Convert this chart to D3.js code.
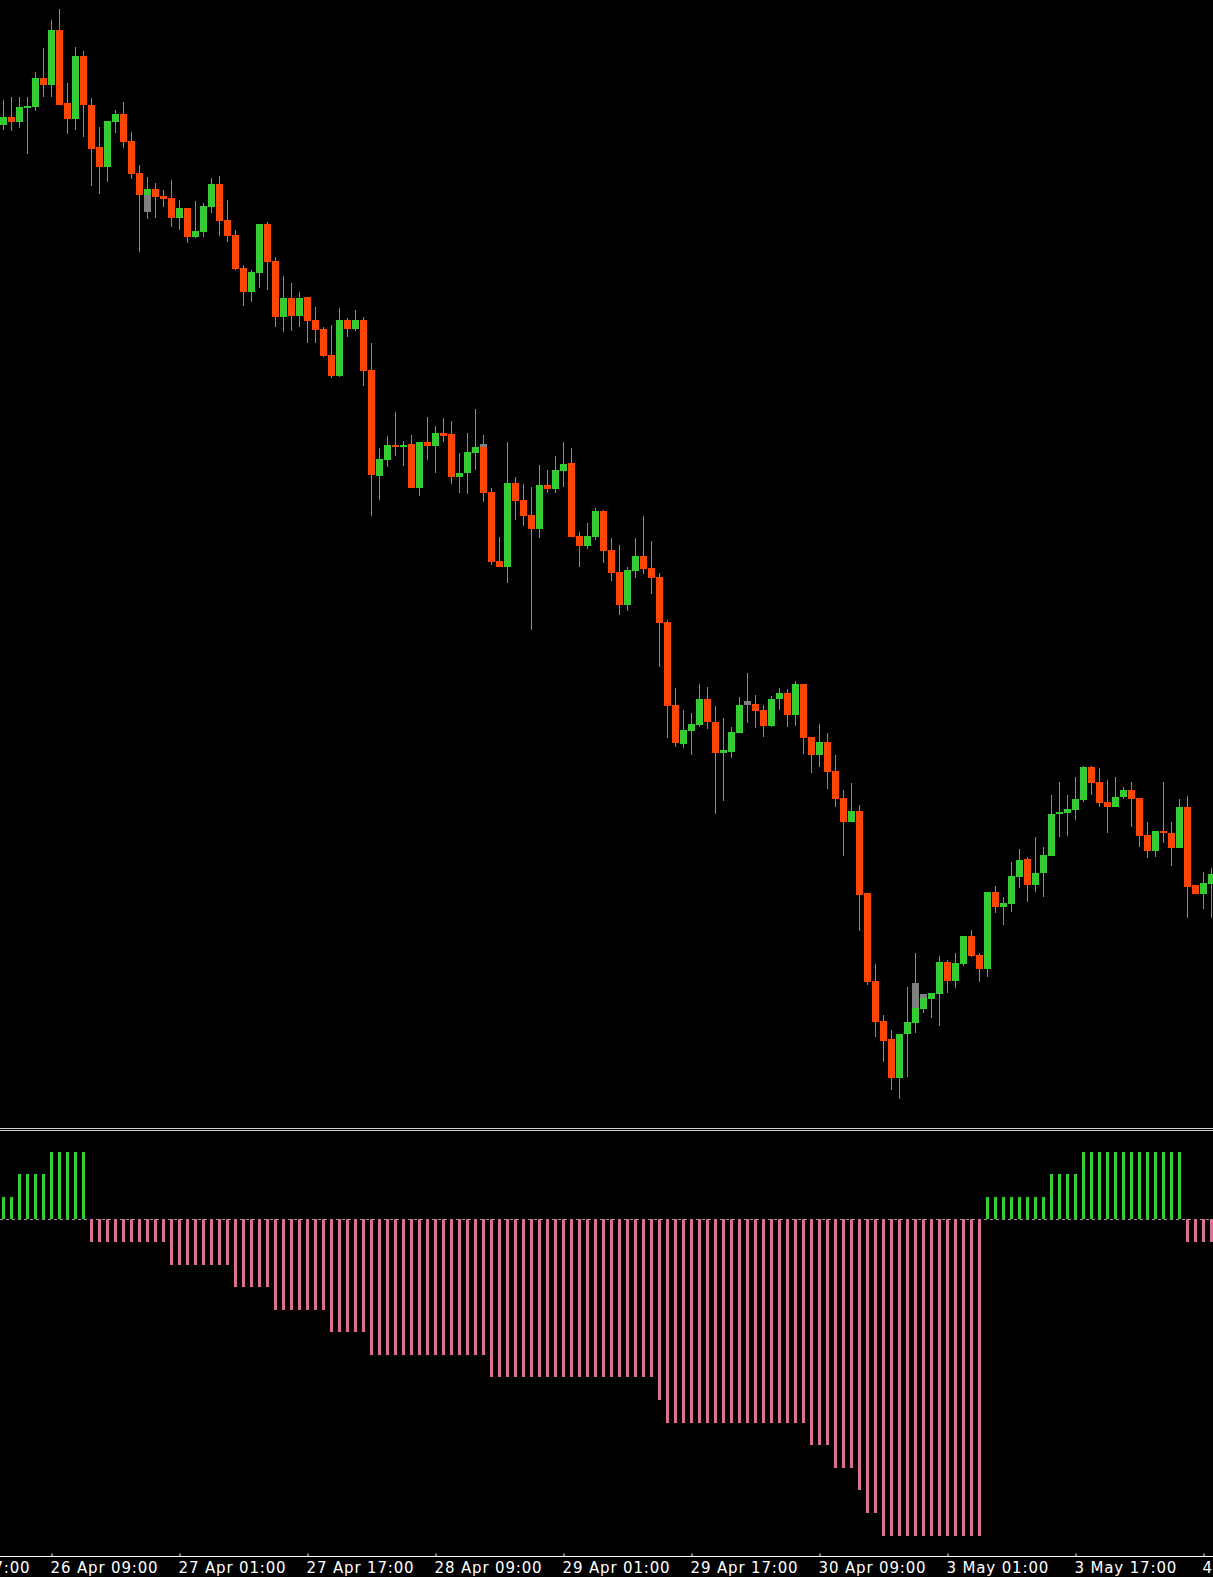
<!DOCTYPE html>
<html><head><meta charset="utf-8">
<script src="https://cdn.jsdelivr.net/npm/d3@7"></script>
<style>html,body{margin:0;padding:0;background:#000;overflow:hidden}</style>
</head><body><svg id="c" width="1213" height="1577"></svg>
<script>
// Hourly candles, price in index points (bar 0 .. bar 151)
const opens = [1075.3,1082.7,1078,1091.7,1092.7,1122,1114.7,1170,1096.7,1080.7,
1144,1095.3,1052.7,1033.3,1078,1086,1059,1027,1005.3,1011,
1004,1002,982,992,963.3,967.7,993.3,1016,980,965,
932.3,907.7,927.3,976,939,882.7,902,884.3,902.7,880,
871.3,845,824.3,880,871,880,830,724.3,740.3,755,
753.3,755.7,712.3,758.3,754.3,767,765.7,723.3,726.7,746.7,
753.3,707.7,639.3,633.3,717,700,685,671.3,715,711,
729.3,736.7,664,654.3,663.3,689,650,628,595.3,629.3,
644,631.7,623,578.3,495,456,469.3,475,500.7,478,
447.3,448.5,467.3,495,495.7,490,474.3,500.7,507.3,485,
516,463.3,445,458.3,429,402.3,378.3,389,306.7,219.3,
179.3,160.7,122.3,165.7,177.3,191,201.3,206,237.7,219.3,
235.7,264,245,231,307.7,293.3,296,323.3,340.7,315,
326.7,344.3,385.7,387.3,390,400,433.3,418.3,398,393.3,
402.7,410,401.7,365,349.3,369.3,366.7,352.3,392.7,314.7,
306,315.7];
const highs = [1100,1102.7,1102.7,1102.7,1128.3,1151.7,1180,1190.7,1117.3,1153.3,
1149.3,1102,1073.3,1079,1090,1098.3,1068,1035.3,1023.3,1016.7,
1010,1020,1000,992,998.5,996.7,1021.7,1024,1000,970,
935,930,976,978.3,942.7,924,917.3,908.3,903.3,893.3,
873.3,875,891.7,881.7,890,882.7,856.7,751.7,764,788,
759.3,765,758.3,782.7,774,781.7,779,746.7,766.7,790.7,
765,711.7,662.7,758.3,722.7,716,713.3,735,730,744,
758.3,751.7,668.3,676.7,691.7,690,661.7,655,632.7,662.3,
684,659.3,626.7,580,511.7,490,486.7,516,513.3,494,
482.5,473,502.7,526.7,505,495,504,511.7,510.7,519.3,
516,463.3,476,466.7,445,410,417.3,395,306.7,236,
185,170,166,213.3,247.3,205.7,206.7,244,240,246.7,
264,270,246.7,307.7,314,303.3,338.3,350.7,343.3,362.7,
353.3,405,417.7,405,423.3,434,434,431.7,420,422.7,
413.3,418.3,401.7,378.3,369.3,418.3,378.3,400.7,404,314.7,
328.3,331.7];
const lows = [1070,1069.3,1072.3,1046,1089,1102.7,1103.3,1095.3,1066,1070,
1062.7,1014,1006,1018,1067.3,1052.3,1021.3,948.3,981.3,981.7,
993.3,973.3,970,956.7,962,963.3,986.7,964.3,958.3,930,
894,898.3,911.7,910,873.3,868.3,869.3,872.7,856.7,857.3,
843.3,821.7,822.7,863.3,869.3,814,684,700,732.7,744.3,
734,712.3,704,740,726.7,758.3,716,706.7,706,730,
698.3,635,632.7,617.3,680,674,570,661.7,706.7,706.7,
713.3,663,633.3,650.7,660,636.7,619.3,585,589.3,621.7,
626,606,532.7,461.7,452.7,451.7,445,472.7,470.7,386,
399.3,442.5,467.3,476.7,471.7,463.3,472.7,490,473.3,474,
446,427.3,432.7,410.7,393.3,344.3,378.3,269.3,215,163.3,
138.3,110,100.7,123.3,166.7,186.7,181.7,174,206.7,212.3,
234,243.3,218.3,222.7,287.3,275,288.3,311.7,298.3,308.3,
303.3,344.3,362.7,364.3,380,398.3,405,393.3,367.3,393.3,
400.7,372.7,353.3,341.7,342.7,357.3,334,352.3,281.7,306,
290.7,281.7];
const closes = [1082.7,1078.3,1092.7,1094,1122,1115.3,1170,1095.3,1080.7,1144,
1094.7,1051.3,1033.3,1079,1086,1058,1026.3,1005.3,1011,1003.3,
1001.3,982,992,963.3,969,994.3,1016,979.3,964.3,931,
908.3,928,976,938.3,882.7,902,884.3,902,879.3,870.3,
844.3,824.3,880,871,880,829.3,725.3,741,755,752.7,
755,712.3,758.3,754.3,766.7,764.3,723.3,726.7,748,752.7,
706.7,638.3,633.3,717,699.3,684.3,671.3,715,711,730,
736,663,654.3,664,689,649.3,627.3,595.3,630,644,
631,622.3,577.3,494.3,457.3,470,475.7,500.7,477.7,447.3,
450,468,495,499,489.3,474.3,501,507.3,485,516,
462.3,445,458.3,428.3,401.3,378.3,389,305,218.3,178.3,
159.3,122.3,166,178,192.3,201.7,206.7,237.7,219.3,236.7,
264,244,231,307.7,293.3,297.3,324,340,315,326.7,
344.7,386,388,390.7,400.7,433.3,417.3,397.3,393.3,402.7,
410,401.3,364.3,349.3,369.3,366.7,352.3,392.7,313.3,306,
316.7,326];
// candles drawn in neutral grey, and grey body segments [bar, top, bottom]
const grayCandles = [93];
const grayBodies = [[18, 1005.3, 988], [60, 756, 753.3], [114, 216.7, 192.3], [115, 205.7, 201.7]];
const greenWickBars = [90];
// indicator histogram (one value per bar)
const histValues = [1,1, 2,2,2,2, 3,3,3,3,3,
-1,-1,-1,-1,-1,-1,-1,-1,-1,-1,
-2,-2,-2,-2,-2,-2,-2,-2,
-3,-3,-3,-3,-3,
-4,-4,-4,-4,-4,-4,-4,
-5,-5,-5,-5,-5,
-6,-6,-6,-6,-6,-6,-6,-6,-6,-6,-6,-6,-6,-6,-6,
-7,-7,-7,-7,-7,-7,-7,-7,-7,-7,-7,-7,-7,-7,-7,-7,-7,-7,-7,-7,-7,
-8,
-9,-9,-9,-9,-9,-9,-9,-9,-9,-9,-9,-9,-9,-9,-9,-9,-9,-9,
-10,-10,-10,
-11,-11,-11,
-12,
-13,-13,
-14,-14,-14,-14,-14,-14,-14,-14,-14,-14,-14,-14,-14,
1,1,1,1,1,1,1,1,
2,2,2,2,
3,3,3,3,3,3,3,3,3,3,3,3,3,
-1,-1,-1,-1];
const tickBars = [-10, 6, 22, 38, 54, 70, 86, 102, 118, 134, 150];
const tickLabels = ["25 Apr 17:00","26 Apr 09:00","27 Apr 01:00","27 Apr 17:00","28 Apr 09:00",
"29 Apr 01:00","29 Apr 17:00","30 Apr 09:00","3 May 01:00","3 May 17:00","4 May 09:00"];

const W = 1213, H = 1577;
const C_UP = "#32cd32", C_DN = "#ff4500", C_WICK = "#8a8a8a", C_GRAY = "#808080";
const C_HPOS = "#32cd32", C_HNEG = "#db7093";

const svg = d3.select("#c");
svg.append("rect").attr("width", W).attr("height", H).attr("fill", "#000");

const x = d3.scaleLinear().domain([0, 151]).range([3, 1211]);
const y = d3.scaleLinear().domain([80, 1200]).range([1120, 0]);
const yH = d3.scaleLinear().domain([-14, 3]).range([1535.5, 1151.7]);

const data = opens.map((o, i) => ({i, o, h: highs[i], l: lows[i], c: closes[i]}));
const colorOf = d => grayCandles.includes(d.i) ? C_GRAY : (d.c > d.o ? C_UP : (d.c < d.o ? C_DN : C_GRAY));

const gC = svg.append("g");
gC.selectAll("line.w").data(data).join("line")
  .attr("x1", d => x(d.i) + 0.5).attr("x2", d => x(d.i) + 0.5)
  .attr("y1", d => Math.round(y(d.h))).attr("y2", d => Math.round(y(d.l)))
  .attr("stroke", d => greenWickBars.includes(d.i) ? C_UP : C_WICK).attr("stroke-width", 1);
gC.selectAll("rect.b").data(data).join("rect")
  .attr("x", d => x(d.i) - 3).attr("width", 7)
  .attr("y", d => Math.round(y(Math.max(d.o, d.c))))
  .attr("height", d => Math.max(2, Math.round(y(Math.min(d.o, d.c))) - Math.round(y(Math.max(d.o, d.c)))))
  .attr("fill", colorOf);
gC.selectAll("rect.g").data(grayBodies).join("rect")
  .attr("x", d => x(d[0]) - 3).attr("width", 7)
  .attr("y", d => Math.round(y(d[1])))
  .attr("height", d => Math.max(2, Math.round(y(d[2])) - Math.round(y(d[1]))))
  .attr("fill", C_GRAY);

// separator
svg.append("line").attr("x1", 0).attr("x2", W).attr("y1", 1128.5).attr("y2", 1128.5).attr("stroke", "#d0d0d0");
svg.append("line").attr("x1", 0).attr("x2", W).attr("y1", 1130.5).attr("y2", 1130.5).attr("stroke", "#d0d0d0");

// histogram
const z = Math.round(yH(0));
svg.append("line").attr("x1", 0).attr("x2", W).attr("y1", z + 0.5).attr("y2", z + 0.5)
  .attr("stroke", "#9a9a9a").attr("stroke-dasharray", "3,3");
svg.append("g").selectAll("rect").data(histValues).join("rect")
  .attr("x", (v, i) => x(i) - 1).attr("width", 3)
  .attr("y", v => v > 0 ? Math.round(yH(v)) : z)
  .attr("height", v => Math.abs(Math.round(yH(v)) - z))
  .attr("fill", v => v > 0 ? C_HPOS : C_HNEG);

// time axis
const axY = 1556.5;
svg.append("line").attr("x1", 0).attr("x2", W).attr("y1", axY).attr("y2", axY).attr("stroke", "#fff");
const ax = svg.append("g").attr("transform", `translate(0.5,${axY})`)
  .call(d3.axisBottom(x).tickValues(tickBars).tickFormat((d, i) => tickLabels[i]).tickSize(-3).tickPadding(0));
ax.select(".domain").remove();
ax.selectAll(".tick line").attr("stroke", "#fff");
ax.selectAll(".tick text").attr("fill", "#fff").attr("text-anchor", "start")
  .attr("x", -1.5).attr("y", 16.5).attr("dy", null)
  .attr("font-family", "DejaVu Sans, sans-serif").attr("font-size", 15)
  .attr("letter-spacing", "0.85px");
</script></body></html>
